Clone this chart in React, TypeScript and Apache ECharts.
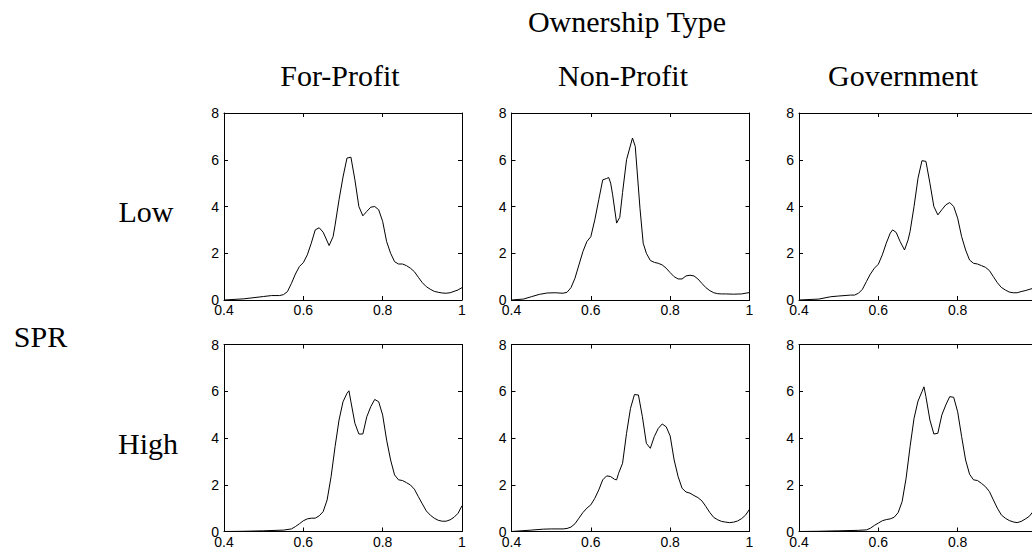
import React, { useEffect, useRef } from "react";
import * as echarts from "echarts";

// ---- Data (x = value, y = density) ----
const columnTitles = ["For-Profit", "Non-Profit", "Government"];
const rowTitles = ["Low", "High"];
const superTitle = "Ownership Type";
const sideTitle = "SPR";

const xMin = 0.4;
const xMax = 1;
const xInterval = 0.2;
const yMin = 0;
const yMax = 8;
const yInterval = 2;

const forProfitLow: [number, number][] = [
  [0.4, 0], [0.45, 0.05], [0.5, 0.15], [0.52, 0.19], [0.54, 0.19], [0.55, 0.23], [0.56, 0.36],
  [0.57, 0.71], [0.58, 1.11], [0.59, 1.43], [0.6, 1.6], [0.61, 1.93], [0.62, 2.43], [0.63, 3.0],
  [0.64, 3.09], [0.65, 2.9], [0.665, 2.33], [0.675, 2.71], [0.68, 3.2], [0.69, 4.29], [0.7, 5.26],
  [0.71, 6.07], [0.72, 6.11], [0.73, 5.14], [0.74, 4.0], [0.75, 3.6], [0.76, 3.79], [0.77, 3.97],
  [0.78, 4.0], [0.79, 3.86], [0.8, 3.36], [0.81, 2.5], [0.82, 2.0], [0.83, 1.64], [0.84, 1.54],
  [0.85, 1.54], [0.86, 1.47], [0.87, 1.36], [0.88, 1.21], [0.89, 0.97], [0.9, 0.74], [0.91, 0.57],
  [0.92, 0.46], [0.93, 0.37], [0.94, 0.33], [0.95, 0.3], [0.96, 0.29], [0.97, 0.31], [0.98, 0.37],
  [0.99, 0.43], [1.0, 0.53],
];

const nonProfitLow: [number, number][] = [
  [0.4, 0], [0.43, 0.04], [0.45, 0.14], [0.47, 0.24], [0.49, 0.3], [0.51, 0.31], [0.53, 0.29],
  [0.54, 0.33], [0.55, 0.53], [0.56, 0.93], [0.57, 1.5], [0.58, 2.07], [0.59, 2.5], [0.6, 2.71],
  [0.61, 3.43], [0.62, 4.29], [0.63, 5.14], [0.64, 5.2], [0.645, 5.24], [0.65, 5.0], [0.655, 4.5],
  [0.665, 3.29], [0.673, 3.54], [0.68, 4.6], [0.69, 6.0], [0.705, 6.93], [0.712, 6.57], [0.724, 3.9],
  [0.732, 2.43], [0.74, 2.0], [0.75, 1.69], [0.76, 1.61], [0.77, 1.57], [0.78, 1.5], [0.79, 1.36],
  [0.8, 1.17], [0.81, 1.0], [0.82, 0.9], [0.83, 0.9], [0.84, 1.03], [0.85, 1.06], [0.86, 1.03],
  [0.87, 0.9], [0.88, 0.71], [0.89, 0.53], [0.9, 0.4], [0.91, 0.31], [0.92, 0.27], [0.93, 0.26],
  [0.94, 0.26], [0.96, 0.25], [0.98, 0.26], [1.0, 0.32],
];

const governmentLow: [number, number][] = [
  [0.4, 0], [0.45, 0.04], [0.48, 0.14], [0.5, 0.17], [0.53, 0.21], [0.54, 0.21], [0.55, 0.29],
  [0.56, 0.46], [0.57, 0.79], [0.58, 1.11], [0.59, 1.36], [0.6, 1.53], [0.61, 1.93], [0.62, 2.43],
  [0.63, 2.86], [0.636, 3.0], [0.645, 2.89], [0.655, 2.5], [0.666, 2.14], [0.675, 2.57], [0.68, 2.93],
  [0.69, 4.0], [0.7, 5.21], [0.71, 5.96], [0.72, 5.93], [0.73, 5.0], [0.74, 4.0], [0.75, 3.64],
  [0.76, 3.86], [0.77, 4.07], [0.78, 4.17], [0.79, 4.0], [0.8, 3.5], [0.81, 2.71], [0.82, 2.14],
  [0.83, 1.71], [0.84, 1.57], [0.85, 1.54], [0.86, 1.47], [0.87, 1.4], [0.88, 1.26], [0.89, 1.0],
  [0.9, 0.74], [0.91, 0.54], [0.92, 0.43], [0.93, 0.34], [0.94, 0.31], [0.95, 0.31], [0.96, 0.36],
  [0.97, 0.4], [0.98, 0.45], [0.99, 0.5], [1.0, 0.55],
];

const forProfitHigh: [number, number][] = [
  [0.4, 0], [0.45, 0.01], [0.5, 0.03], [0.55, 0.06], [0.57, 0.11], [0.58, 0.21], [0.59, 0.33],
  [0.6, 0.46], [0.61, 0.54], [0.62, 0.57], [0.63, 0.57], [0.64, 0.67], [0.65, 0.85], [0.66, 1.35],
  [0.67, 2.35], [0.68, 3.63], [0.69, 4.77], [0.7, 5.55], [0.71, 5.91], [0.715, 6.02], [0.72, 5.55],
  [0.73, 4.63], [0.74, 4.17], [0.75, 4.17], [0.76, 4.91], [0.77, 5.34], [0.78, 5.65], [0.79, 5.55],
  [0.8, 4.98], [0.81, 3.91], [0.82, 3.06], [0.83, 2.42], [0.84, 2.21], [0.85, 2.18], [0.86, 2.09],
  [0.87, 1.99], [0.88, 1.81], [0.89, 1.49], [0.9, 1.18], [0.91, 0.88], [0.92, 0.7], [0.93, 0.57],
  [0.94, 0.48], [0.95, 0.44], [0.96, 0.44], [0.97, 0.5], [0.98, 0.61], [0.99, 0.78], [1.0, 1.1],
];

const nonProfitHigh: [number, number][] = [
  [0.4, 0], [0.45, 0.06], [0.48, 0.1], [0.5, 0.11], [0.53, 0.11], [0.54, 0.13], [0.55, 0.19],
  [0.56, 0.33], [0.57, 0.57], [0.58, 0.81], [0.59, 1.0], [0.6, 1.14], [0.61, 1.42], [0.62, 1.78],
  [0.63, 2.21], [0.64, 2.38], [0.65, 2.35], [0.66, 2.23], [0.665, 2.21], [0.67, 2.49], [0.68, 2.92],
  [0.69, 4.2], [0.7, 5.27], [0.71, 5.86], [0.72, 5.84], [0.73, 4.91], [0.74, 3.77], [0.75, 3.56],
  [0.76, 4.06], [0.77, 4.41], [0.78, 4.6], [0.79, 4.48], [0.8, 4.09], [0.81, 3.06], [0.82, 2.35],
  [0.83, 1.85], [0.84, 1.69], [0.85, 1.64], [0.86, 1.54], [0.87, 1.45], [0.88, 1.31], [0.89, 1.07],
  [0.9, 0.81], [0.91, 0.6], [0.92, 0.5], [0.93, 0.43], [0.94, 0.4], [0.95, 0.38], [0.96, 0.4],
  [0.97, 0.45], [0.98, 0.55], [0.99, 0.7], [1.0, 0.95],
];

const governmentHigh: [number, number][] = [
  [0.4, 0], [0.45, 0.01], [0.5, 0.03], [0.55, 0.05], [0.57, 0.07], [0.58, 0.14], [0.59, 0.26],
  [0.6, 0.36], [0.61, 0.46], [0.62, 0.51], [0.63, 0.54], [0.64, 0.61], [0.65, 0.81], [0.66, 1.28],
  [0.67, 2.28], [0.68, 3.63], [0.69, 4.84], [0.7, 5.58], [0.71, 5.98], [0.715, 6.19], [0.72, 5.77],
  [0.73, 4.77], [0.74, 4.17], [0.75, 4.2], [0.76, 4.98], [0.77, 5.41], [0.78, 5.77], [0.79, 5.74],
  [0.8, 5.12], [0.81, 4.06], [0.82, 3.06], [0.83, 2.45], [0.84, 2.21], [0.85, 2.18], [0.86, 2.06],
  [0.87, 1.92], [0.88, 1.71], [0.89, 1.35], [0.9, 1.0], [0.91, 0.71], [0.92, 0.57], [0.93, 0.47],
  [0.94, 0.41], [0.95, 0.38], [0.96, 0.43], [0.97, 0.53], [0.98, 0.64], [0.99, 0.85], [1.0, 1.1],
];

const panelSeries = [
  [forProfitLow, nonProfitLow, governmentLow],
  [forProfitHigh, nonProfitHigh, governmentHigh],
];

// ---- Layout ----
const gridLefts = [224, 511.5, 799];
const gridTops = [113, 344.5];
const gridW = 238;
const gridH = 187;

const SERIF = "'Liberation Serif', 'Times New Roman', Times, serif";
const SANS = "'Liberation Sans', Arial, Helvetica, sans-serif";

export default function App() {
  const ref = useRef<HTMLDivElement>(null);

  useEffect(() => {
    if (!ref.current) return;
    const chart = echarts.init(ref.current, null, { renderer: "svg" });

    const grid: any[] = [];
    const xAxis: any[] = [];
    const yAxis: any[] = [];
    const series: any[] = [];

    const axisLine = { show: true, onZero: false, lineStyle: { color: "#000", width: 1 } };
    const axisTick = { show: true, inside: true, length: 4, lineStyle: { color: "#000", width: 1 } };

    let idx = 0;
    for (let r = 0; r < 2; r++) {
      for (let c = 0; c < 3; c++) {
        grid.push({
          left: gridLefts[c],
          top: gridTops[r],
          width: gridW,
          height: gridH,
          containLabel: false,
          outerBoundsMode: "none",
        });
        xAxis.push({
          type: "value", gridIndex: idx, position: "bottom", min: xMin, max: xMax, interval: xInterval,
          axisLine, axisTick, splitLine: { show: false },
          axisLabel: { show: true, color: "#000", fontSize: 14, fontFamily: SANS, margin: 3 },
        });
        xAxis.push({
          type: "value", gridIndex: idx, position: "top", min: xMin, max: xMax, interval: xInterval,
          axisLine, axisTick, splitLine: { show: false }, axisLabel: { show: false },
        });
        yAxis.push({
          type: "value", gridIndex: idx, position: "left", min: yMin, max: yMax, interval: yInterval,
          axisLine, axisTick, splitLine: { show: false },
          axisLabel: { show: true, color: "#000", fontSize: 14, fontFamily: SANS, margin: 5 },
        });
        yAxis.push({
          type: "value", gridIndex: idx, position: "right", min: yMin, max: yMax, interval: yInterval,
          axisLine, axisTick, splitLine: { show: false }, axisLabel: { show: false },
        });
        series.push({
          type: "line",
          name: `${columnTitles[c]} ${rowTitles[r]}`,
          xAxisIndex: idx * 2,
          yAxisIndex: idx * 2,
          data: panelSeries[r][c],
          symbol: "none",
          showSymbol: false,
          smooth: false,
          lineStyle: { color: "#000", width: 1 },
        });
        idx++;
      }
    }

    const textStyle = (x: number, y: number, text: string) => ({
      type: "text",
      x,
      y,
      style: {
        text,
        fill: "#000",
        font: `30px ${SERIF}`,
        align: "center",
        verticalAlign: "middle",
      },
    });

    const graphic = [
      textStyle(627, 21, superTitle),
      textStyle(340, 75, columnTitles[0]),
      textStyle(623, 75, columnTitles[1]),
      textStyle(903, 75, columnTitles[2]),
      textStyle(146, 211.5, rowTitles[0]),
      textStyle(148, 443, rowTitles[1]),
      textStyle(40.5, 336, sideTitle),
    ];

    chart.setOption({
      animation: false,
      backgroundColor: "#fff",
      grid,
      xAxis,
      yAxis,
      series,
      graphic,
    });

    return () => chart.dispose();
  }, []);

  return (
    <div style={{ position: "absolute", left: 0, top: 0, width: 1032, height: 552, overflow: "hidden", background: "#fff" }}>
      <div ref={ref} style={{ position: "absolute", left: 0, top: 0, width: 1060, height: 552 }} />
    </div>
  );
}
